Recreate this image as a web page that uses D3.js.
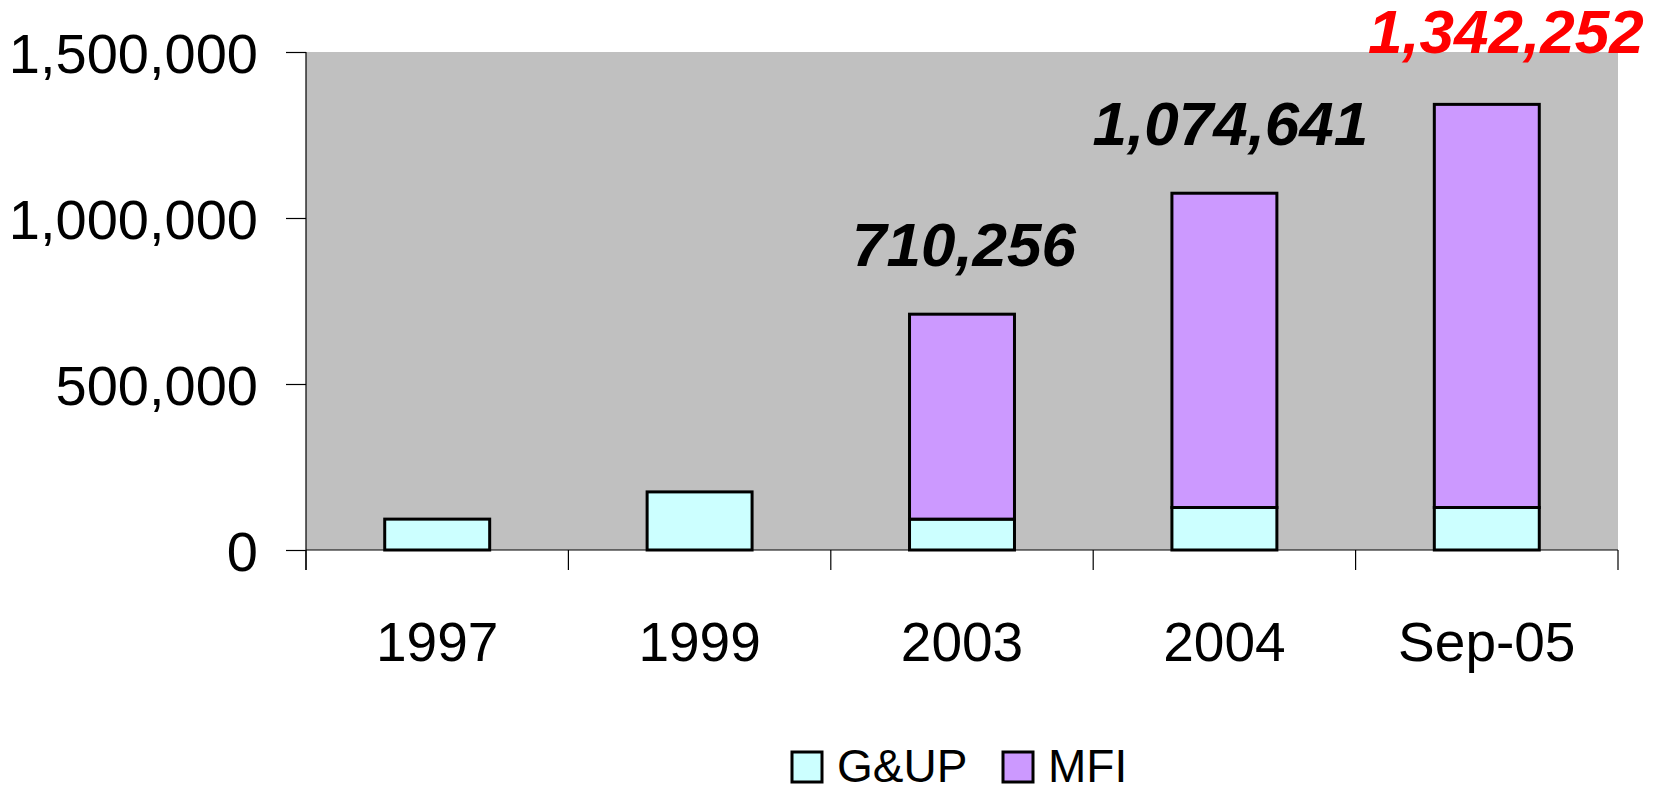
<!DOCTYPE html>
<html><head><meta charset="utf-8">
<script src="https://cdn.jsdelivr.net/npm/d3@7"></script>
<style>html,body{margin:0;padding:0;background:#fff;}svg{display:block;}</style>
</head><body>
<svg id="chart" width="1658" height="789"></svg>
<script>
const categories = ["1997", "1999", "2003", "2004", "Sep-05"];
const gup = [93000, 175000, 93000, 128000, 128000];
const mfi = [0, 0, 617256, 946641, 1214252];
const totalLabels = [null, null, "710,256", "1,074,641", "1,342,252"];
const yTicks = [0, 500000, 1000000, 1500000];
const seriesNames = ["G&UP", "MFI"];
const seriesColors = ["#CCFFFF", "#CC99FF"];
const labelColors = ["#000", "#000", "#000", "#000", "#FF0000"];
const labelDx = [0, 0, 2, 6, 19];
const labelDy = [0, 0, -48, -48, -51];

const svg = d3.select("#chart");
const font = "'Liberation Sans', Arial, sans-serif";
const m = {left: 306, right: 1618, top: 52, bottom: 550};

const x = d3.scaleBand().domain(categories).range([m.left, m.right]).paddingInner(0.6).paddingOuter(0.3);
const xb = d3.scaleBand().domain(categories).range([m.left, m.right]);
const y = d3.scaleLinear().domain([0, 1500000]).range([m.bottom, m.top]);

svg.append("rect").attr("x", m.left).attr("y", m.top)
  .attr("width", m.right - m.left).attr("height", m.bottom - m.top).attr("fill", "#C0C0C0");

const data = categories.map((c, i) => ({cat: c, gup: gup[i], mfi: mfi[i]}));
const stack = d3.stack().keys(["gup", "mfi"])(data);

stack.forEach((layer, li) => {
  svg.append("g").selectAll("rect").data(layer.filter(d => d[1] - d[0] > 0)).join("rect")
    .attr("x", d => x(d.data.cat))
    .attr("width", x.bandwidth())
    .attr("y", d => y(d[1]))
    .attr("height", d => y(d[0]) - y(d[1]))
    .attr("fill", seriesColors[li])
    .attr("stroke", "#000").attr("stroke-width", 3);
});

// y axis
const yAxis = d3.axisLeft(y).tickValues(yTicks).tickSize(20).tickPadding(28)
  .tickFormat(d3.format(","));
const gy = svg.append("g").attr("transform", `translate(${m.left},0)`).call(yAxis);
gy.select(".domain").remove();
gy.selectAll(".tick line").attr("stroke", "#000").attr("stroke-width", 1.2);
gy.selectAll(".tick text").attr("font-family", font).attr("font-size", 56).attr("fill", "#000").attr("dy", "0.36em");
svg.append("line").attr("x1", m.left).attr("x2", m.left).attr("y1", m.top).attr("y2", m.bottom + 20)
  .attr("stroke", "#000").attr("stroke-width", 1.2);

// x axis baseline & boundary ticks
svg.append("line").attr("x1", m.left).attr("x2", m.right).attr("y1", m.bottom).attr("y2", m.bottom)
  .attr("stroke", "#000").attr("stroke-width", 1.2);
const bounds = categories.map(c => xb(c)).concat([xb(categories[categories.length - 1]) + xb.bandwidth()]);
svg.append("g").selectAll("line").data(bounds).join("line")
  .attr("x1", d => d).attr("x2", d => d).attr("y1", m.bottom).attr("y2", m.bottom + 20)
  .attr("stroke", "#000").attr("stroke-width", 1.2);
svg.append("g").selectAll("text").data(categories).join("text")
  .attr("x", d => xb(d) + xb.bandwidth() / 2).attr("y", 661)
  .attr("text-anchor", "middle").attr("font-family", font).attr("font-size", 55).attr("fill", "#000")
  .text(d => d);

// total labels
svg.append("g").selectAll("text").data(data.map((d, i) => ({...d, i})).filter(d => totalLabels[d.i])).join("text")
  .attr("x", d => x(d.cat) + x.bandwidth() / 2 + labelDx[d.i])
  .attr("y", d => y(d.gup + d.mfi) + labelDy[d.i])
  .attr("text-anchor", "middle").attr("font-family", font).attr("font-size", 62)
  .attr("font-weight", "bold").attr("font-style", "italic")
  .attr("fill", d => labelColors[d.i])
  .text(d => totalLabels[d.i]);

// legend
const legendX = [792, 1003];
const lg = svg.append("g");
seriesNames.forEach((n, i) => {
  lg.append("rect").attr("x", legendX[i]).attr("y", 752).attr("width", 30).attr("height", 30)
    .attr("fill", seriesColors[i]).attr("stroke", "#000").attr("stroke-width", 3);
  lg.append("text").attr("x", legendX[i] + 45).attr("y", 782)
    .attr("font-family", font).attr("font-size", 46).attr("fill", "#000").text(n);
});
</script>
</body></html>
